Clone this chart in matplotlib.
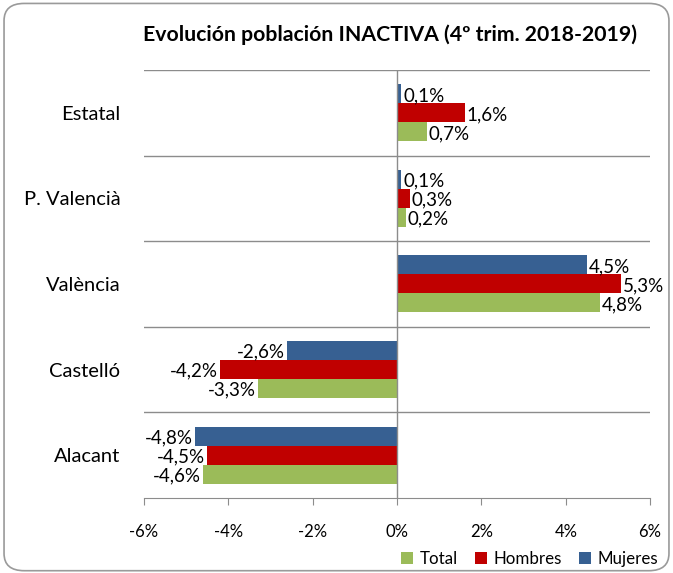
import matplotlib.pyplot as plt
from matplotlib.patches import FancyBboxPatch

categories = ["Estatal", "P. Valencià", "València", "Castelló", "Alacant"]
total = [0.7, 0.2, 4.8, -3.3, -4.6]
hombres = [1.6, 0.3, 5.3, -4.2, -4.5]
mujeres = [0.1, 0.1, 4.5, -2.6, -4.8]
series = [("Total", total, "#9BBB59"),
          ("Hombres", hombres, "#C00000"),
          ("Mujeres", mujeres, "#376092")]
xticks = [-6, -4, -2, 0, 2, 4, 6]

FONT = ["Lato", "DejaVu Sans"]
plt.rcParams["font.family"] = FONT

fig = plt.figure(figsize=(6.73, 5.73), dpi=100)
fig.patch.set_facecolor("white")
border = FancyBboxPatch((0.006, 0.004), 0.988, 0.99,
                        boxstyle="round,pad=0,rounding_size=0.03",
                        transform=fig.transFigure, fill=False,
                        ec="#9a9a9a", lw=1.2)
fig.patches.append(border)

ax = fig.add_axes([0.214, 0.131, 0.752, 0.747])

n = len(categories)
bar_h = 0.222
offsets = {"Total": -bar_h, "Hombres": 0.0, "Mujeres": bar_h}
ypos = [n - 1 - i for i in range(n)]

for name, vals, color in series:
    ys = [y + offsets[name] for y in ypos]
    ax.barh(ys, vals, height=bar_h, color=color, label=name, zorder=3)
    for y, v in zip(ys, vals):
        txt = f"{v:.1f}%".replace(".", ",")
        if v >= 0:
            ax.text(v + 0.05, y - 0.02, txt, ha="left", va="center", fontsize=13.5)
        else:
            ax.text(v - 0.05, y - 0.02, txt, ha="right", va="center", fontsize=13.5)

ax.set_xlim(-6, 6)
ax.set_ylim(-0.5, n - 0.5)
ax.set_xticks(xticks)
ax.set_xticklabels([f"{t}%" for t in xticks], fontsize=12)
ax.tick_params(axis="x", length=5, color="#8c8c8c", pad=14)
ax.set_yticks(ypos)
ax.set_yticklabels(categories, fontsize=14.5)
ax.tick_params(axis="y", length=0, pad=17)

for b in [i + 0.5 for i in range(n)]:
    ax.axhline(b, color="#8c8c8c", lw=1, zorder=1)
ax.axvline(0, color="#8c8c8c", lw=1, zorder=4)
for spine in ["top", "right", "left"]:
    ax.spines[spine].set_visible(False)
ax.spines["bottom"].set_color("#8c8c8c")

fig.text(0.58, 0.939, "Evolución población INACTIVA (4º trim. 2018-2019)",
         ha="center", va="center", fontsize=15.3, fontweight="bold")

handles, labels = ax.get_legend_handles_labels()
leg = fig.legend(handles, labels, loc="center", bbox_to_anchor=(0.787, 0.024),
                 ncol=3, frameon=False, fontsize=12.2, handlelength=0.7,
                 handleheight=0.7, handletextpad=0.4, columnspacing=1.0)

fig.savefig("out.png", dpi=100)
